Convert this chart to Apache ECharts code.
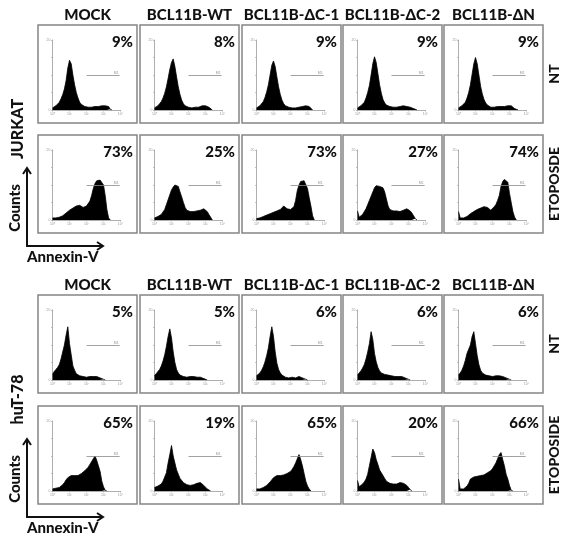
<!DOCTYPE html>
<html><head><meta charset="utf-8">
<script src="https://cdn.jsdelivr.net/npm/echarts@6/dist/echarts.min.js"></script>
<style>html,body{margin:0;padding:0;background:#fff}#c{width:562px;height:540px}</style>
</head><body><div id="c"></div>
<script>
// ---- categories / labels ----
const constructs = ['MOCK', 'BCL11B-WT', 'BCL11B-\u0394C-1', 'BCL11B-\u0394C-2', 'BCL11B-\u0394N'];
const cellLines = ['JURKAT', 'huT-78'];
const treatmentLabels = ['NT', 'ETOPOSDE', 'NT', 'ETOPOSIDE'];
const xTickLabels = ['10\u2070', '10\u00b9', '10\u00b2', '10\u00b3', '10\u2074']; // log decades
const yTickLabels = { 0: '0', 100: '20' };
const axisTitles = ['Counts', 'Annexin-V'];
const gateRange = [2, 4];   // M1 gate in log decades
const gateLevel = 49;
const binWidth = 0.1;       // histogram bin width (log decades)

// ---- percentages (M1 gate) ----
const jurkatNtPct = [9, 8, 9, 9, 9];
const jurkatEtoPct = [73, 25, 73, 27, 74];
const hutNtPct = [5, 5, 6, 6, 6];
const hutEtoPct = [65, 19, 65, 20, 66];

// ---- histogram counts (relative, bins of 0.1 decade from 10^0) ----
const jurkatNtMock = [3,5,6,8,11,16,22,30,42,60,71,66,50,36,25,17,11,8,6,5,5,4,5,4,5,5,4,5,5,6,5,6,7,5,1,0];
const jurkatNtWt   = [3,4,6,9,12,17,24,33,45,58,68,73,62,47,33,22,14,9,6,5,4,4,3,4,4,3,4,5,6,7,6,5,4,2,0];
const jurkatNtDc1  = [3,4,6,8,12,18,26,36,50,64,70,62,47,33,22,14,9,6,5,4,3,3,4,3,4,4,4,5,5,6,7,5,3,0];
const jurkatNtDc2  = [3,4,6,8,11,17,25,35,50,66,76,68,52,36,24,15,10,7,5,5,4,4,5,4,4,5,5,6,6,5,5,4,3,2,1,0];
const jurkatNtDn   = [3,4,6,8,11,17,25,36,51,66,75,66,50,34,23,15,10,7,5,4,4,4,4,5,4,5,5,5,6,6,7,6,4,2,1,0];

const jurkatEtoMock = [3,3,3,4,4,5,6,8,10,12,14,16,17,19,20,22,21,20,18,18,20,22,27,35,45,52,56,58,57,55,50,35,15,3,0];
const jurkatEtoWt   = [3,4,5,6,8,10,15,22,29,36,43,47,50,52,48,40,33,25,18,14,12,12,13,12,12,13,12,14,15,16,14,12,8,4,0];
const jurkatEtoDc1  = [2,3,3,4,5,6,7,8,9,10,11,12,13,14,15,17,20,21,16,14,15,17,19,28,42,50,55,57,56,54,45,32,20,6,0];
const jurkatEtoDc2  = [13,4,5,8,12,16,22,28,34,40,46,49,50,48,47,46,40,30,20,15,13,13,12,13,13,12,13,14,15,16,14,13,10,6,2,0];
const jurkatEtoDn   = [12,3,3,3,4,5,7,9,11,12,14,15,16,17,18,19,20,18,16,14,16,19,22,28,35,48,55,58,56,54,38,25,12,4,0];

const hutNtMock = [8,12,15,18,22,30,40,50,64,76,52,36,20,14,9,8,6,5,5,4,4,4,5,5,5,6,5,4,3,2,1,0];
const hutNtWt   = [6,9,12,15,20,27,36,48,62,73,60,40,25,15,10,7,6,5,4,4,4,5,4,5,5,4,3,4,3,2,1,0];
const hutNtDc1  = [6,8,10,14,19,26,35,46,62,76,62,40,24,15,10,7,5,4,4,3,3,4,4,3,4,5,4,3,2,1,0];
const hutNtDc2  = [7,10,13,17,22,30,40,52,69,58,38,26,18,13,10,9,8,7,7,6,6,6,5,6,5,5,5,4,3,2,1,0];
const hutNtDn   = [7,10,14,20,28,38,44,50,62,69,52,35,22,14,10,8,7,6,6,5,5,6,6,7,6,5,5,4,3,2,1,0];

const hutEtoMock = [3,3,4,4,5,6,9,12,16,19,21,22,21,22,21,22,24,25,27,29,31,34,38,42,46,50,44,36,28,14,6,1,0];
const hutEtoWt   = [5,6,7,8,10,14,20,26,40,52,65,50,40,30,24,18,15,12,10,9,8,8,8,9,10,11,12,12,10,8,6,3,1,0];
const hutEtoDc1  = [3,3,3,4,5,6,8,10,13,16,19,21,22,21,22,22,23,24,25,26,28,31,35,40,46,52,45,36,25,14,7,3,0];
const hutEtoDc2  = [15,6,8,10,13,17,24,36,48,60,55,45,38,30,26,22,18,14,12,11,10,10,9,10,11,12,12,11,10,8,5,2,0];
const hutEtoDn   = [17,3,3,3,4,7,11,17,19,20,21,21,22,22,22,23,24,26,28,29,32,36,40,46,52,55,45,36,24,17,8,1,0];

const rows = [
  { hist: [jurkatNtMock, jurkatNtWt, jurkatNtDc1, jurkatNtDc2, jurkatNtDn], pct: jurkatNtPct },
  { hist: [jurkatEtoMock, jurkatEtoWt, jurkatEtoDc1, jurkatEtoDc2, jurkatEtoDn], pct: jurkatEtoPct },
  { hist: [hutNtMock, hutNtWt, hutNtDc1, hutNtDc2, hutNtDn], pct: hutNtPct },
  { hist: [hutEtoMock, hutEtoWt, hutEtoDc1, hutEtoDc2, hutEtoDn], pct: hutEtoPct }
];

// ---- layout ----
const boxX = [38, 140, 242, 343, 444];
const boxY = [25, 135, 295, 406];
const boxW = 99, boxH = 98;
const FONT = 'Lato, "Open Sans", sans-serif';
const W = '900 ';

const grids = [], xAxes = [], yAxes = [], series = [], graphics = [];
let gi = 0;
rows.forEach((row, r) => {
  row.hist.forEach((h, c) => {
    grids.push({ left: boxX[c] + 14.5, top: boxY[r] + 15, width: 68, height: 70 });
    xAxes.push({
      gridIndex: gi, type: 'value', min: 0, max: 4, interval: 1,
      axisLine: { show: true, lineStyle: { color: '#9a9a9a', width: 0.8 } },
      axisTick: { show: true, length: 1.5, lineStyle: { color: '#9a9a9a', width: 0.6 } },
      axisLabel: { fontSize: 3.5, color: '#999', margin: 2, formatter: v => xTickLabels[v] },
      splitLine: { show: false }
    });
    yAxes.push({
      gridIndex: gi, type: 'value', min: 0, max: 100, interval: 25,
      axisLine: { show: true, lineStyle: { color: '#9a9a9a', width: 0.8 } },
      axisTick: { show: true, length: 1.5, lineStyle: { color: '#9a9a9a', width: 0.6 } },
      axisLabel: { fontSize: 3.5, color: '#999', margin: 2, formatter: v => yTickLabels[v] || '' },
      splitLine: { show: false }
    });
    series.push({
      type: 'line', xAxisIndex: gi, yAxisIndex: gi, symbol: 'none', silent: true,
      data: h.map((v, i) => [i * binWidth, v]),
      lineStyle: { color: '#000', width: 0.8 },
      areaStyle: { color: '#000', opacity: 1 },
      markLine: {
        silent: true, symbol: ['none', 'none'], animation: false,
        lineStyle: { color: '#8a8a8a', width: 0.8, type: 'solid' },
        label: { show: true, formatter: 'M1', position: 'insideEndTop', fontSize: 3.5, color: '#999', distance: 1 },
        data: [[{ coord: [gateRange[0], gateLevel] }, { coord: [gateRange[1] - 0.05, gateLevel] }]]
      }
    });
    graphics.push({ type: 'rect', shape: { x: boxX[c], y: boxY[r], width: boxW, height: boxH },
      style: { fill: null, stroke: '#858585', lineWidth: 1.5 }, z: 10 });
    graphics.push({ type: 'text', x: boxX[c] + 95, y: boxY[r] + 17,
      style: { text: row.pct[c] + '%', font: W + '15px ' + FONT, fill: '#111', textAlign: 'right', textVerticalAlign: 'middle' }, z: 10 });
    gi++;
  });
  graphics.push({ type: 'text', x: 554, y: boxY[r] + 49, rotation: Math.PI / 2,
    style: { text: treatmentLabels[r], font: W + '14px ' + FONT, fill: '#111', textAlign: 'center', textVerticalAlign: 'middle' } });
});

[0, 2].forEach(r => {
  constructs.forEach((name, c) => {
    graphics.push({ type: 'text', x: boxX[c] + boxW / 2, y: boxY[r] - 10,
      style: { text: name, font: W + '15px ' + FONT, fill: '#111', textAlign: 'center', textVerticalAlign: 'middle' } });
  });
});

[[0, 1], [2, 3]].forEach(([rt, rb], k) => {
  const midY = (boxY[rt] + boxH + boxY[rb]) / 2;
  graphics.push({ type: 'text', x: 18, y: midY, rotation: Math.PI / 2,
    style: { text: cellLines[k], font: W + '16px ' + FONT, fill: '#111', textAlign: 'center', textVerticalAlign: 'middle' } });
  const ax = 27, topY = boxY[rb] + 33, cornerY = boxY[rb] + 111, rightX = 103;
  graphics.push({ type: 'polyline', shape: { points: [[ax, topY], [ax, cornerY], [rightX, cornerY]] },
    style: { stroke: '#111', lineWidth: 2, fill: null } });
  graphics.push({ type: 'polyline', shape: { points: [[ax - 4, topY + 6], [ax, topY], [ax + 4, topY + 6]] },
    style: { stroke: '#111', lineWidth: 2, fill: null } });
  graphics.push({ type: 'polyline', shape: { points: [[rightX - 6, cornerY - 4], [rightX, cornerY], [rightX - 6, cornerY + 4]] },
    style: { stroke: '#111', lineWidth: 2, fill: null } });
  graphics.push({ type: 'text', x: 15, y: (topY + cornerY) / 2 + 1, rotation: Math.PI / 2,
    style: { text: axisTitles[0], font: W + '15px ' + FONT, fill: '#111', textAlign: 'center', textVerticalAlign: 'middle' } });
  graphics.push({ type: 'text', x: ax, y: cornerY + 11,
    style: { text: axisTitles[1], font: W + '15px ' + FONT, fill: '#111', textAlign: 'left', textVerticalAlign: 'middle' } });
});

const chart = echarts.init(document.getElementById('c'), null, { renderer: 'canvas' });
chart.setOption({
  animation: false,
  backgroundColor: '#fff',
  grid: grids, xAxis: xAxes, yAxis: yAxes, series: series,
  graphic: { elements: graphics }
});
</script></body></html>
